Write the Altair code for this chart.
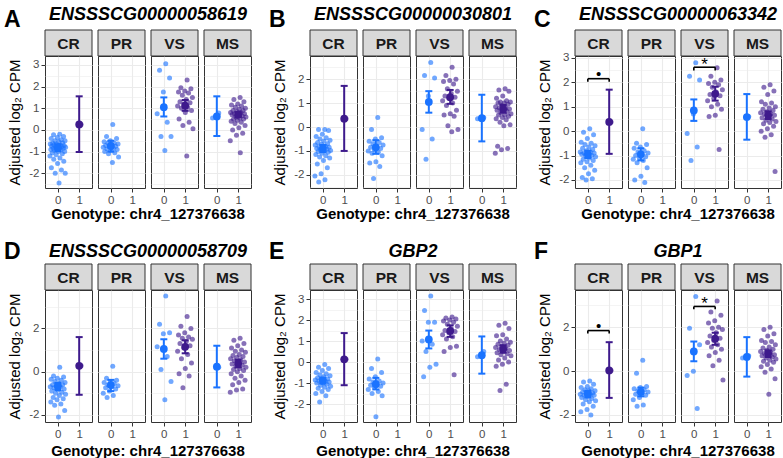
import altair as alt
import numpy as np
import pandas as pd

FONT = "Liberation Sans"
BLUE = "#1A73FF"
PURPLE = "#3E1A8C"
GRID = "#EBEBEB"
BORDER = "#333333"
STRIP_FILL = "#D9D9D9"
TISSUES = ["CR", "PR", "VS", "MS"]
X_TITLE = "Genotype: chr4_127376638"
Y_TITLE = "Adjusted log₂ CPM"

# ---- per-sample adjusted expression, one list per tissue x genotype ----
A_CR_0 = [-0.2, -0.22, -0.3, -0.35, -0.4, -0.45, -0.5, -0.5, -0.55, -0.6, -0.6, -0.65, -0.65, -0.7,
          -0.7, -0.72, -0.75, -0.75, -0.78, -0.8, -0.8, -0.82, -0.85, -0.85, -0.88, -0.9, -0.92, -0.95,
          -1.0, -1.0, -1.05, -1.1, -1.15, -1.2, -1.3, -1.35, -1.45, -1.55, -1.75, -1.85, -2.0, -2.0, -2.45]
A_CR_1 = [0.25]
A_PR_0 = [0.25, -0.3, -0.4, -0.5, -0.55, -0.6, -0.62, -0.65, -0.7, -0.72, -0.75, -0.78, -0.8, -0.85,
          -0.88, -0.9, -0.95, -1.0, -1.05, -1.1, -1.25, -1.5]
A_VS_0 = [3.05, 2.75, 2.4, 1.75, 0.75, 0.35, -0.3, -0.3, -0.95]
A_VS_1 = [2.3, 1.95, 1.9, 1.8, 1.75, 1.7, 1.6, 1.5, 1.4, 1.3, 1.25, 1.2, 1.1, 1.05, 1.0, 0.9, 0.8, 0.5,
          0.35, 0.2, 0.05, -1.2]
A_MS_0 = [0.78, 0.55]
A_MS_1 = [1.5, 1.4, 1.3, 1.2, 1.15, 1.1, 1.05, 1.0, 0.95, 0.9, 0.9, 0.85, 0.8, 0.8, 0.75, 0.75, 0.7, 0.7,
          0.65, 0.6, 0.6, 0.55, 0.5, 0.5, 0.45, 0.4, 0.35, 0.3, 0.2, 0.1, 0.0, -0.15, -0.25, -0.5, -1.05]

B_CR_0 = [-0.1, -0.1, -0.15, -0.3, -0.4, -0.45, -0.5, -0.55, -0.6, -0.65, -0.7, -0.72, -0.75, -0.8,
          -0.82, -0.85, -0.88, -0.9, -0.92, -0.95, -0.98, -1.0, -1.02, -1.05, -1.1, -1.15, -1.2, -1.25,
          -1.3, -1.4, -1.55, -1.7, -1.95, -2.05, -2.2, -2.3]
B_CR_1 = [0.35]
B_PR_0 = [0.4, -0.1, -0.45, -0.5, -0.6, -0.65, -0.7, -0.75, -0.8, -0.85, -0.9, -0.95, -1.0, -1.05,
          -1.1, -1.2, -1.45, -1.5, -1.65, -2.15]
B_VS_0 = [2.7, 2.15, 2.05, 1.3, -0.1, -0.5, -1.35]
B_VS_1 = [2.5, 2.15, 2.0, 1.95, 1.9, 1.8, 1.6, 1.5, 1.4, 1.3, 1.25, 1.2, 1.1, 1.0, 0.9, 0.7, 0.55, 0.5,
          0.45, 0.05, -0.1, -0.2]
B_MS_0 = [0.4, 0.35]
B_MS_1 = [1.6, 1.55, 1.5, 1.3, 1.2, 1.1, 1.05, 1.05, 1.0, 1.0, 0.95, 0.9, 0.85, 0.8, 0.8, 0.75, 0.7,
          0.7, 0.65, 0.6, 0.55, 0.5, 0.5, 0.45, 0.4, 0.35, 0.3, 0.2, 0.1, 0.05, -0.8, -0.9, -0.95, -1.1]

C_CR_0 = [0.1, -0.05, -0.15, -0.3, -0.45, -0.5, -0.55, -0.6, -0.65, -0.7, -0.75, -0.8, -0.85, -0.85,
          -0.9, -0.9, -0.95, -0.95, -1.0, -1.0, -1.05, -1.1, -1.15, -1.2, -1.25, -1.3, -1.4, -1.5, -1.6,
          -1.75, -1.9, -1.95, -2.0]
C_CR_1 = [0.38]
C_PR_0 = [0.1, -0.5, -0.55, -0.65, -0.7, -0.8, -0.85, -0.9, -0.95, -1.0, -1.05, -1.1, -1.15, -1.2,
          -1.3, -1.5, -1.85, -2.0, -2.1]
C_VS_0 = [2.8, 2.25, 2.1, 0.7, -0.1, -0.65, -1.2]
C_VS_1 = [2.6, 2.25, 2.1, 2.0, 1.95, 1.9, 1.8, 1.7, 1.6, 1.5, 1.45, 1.35, 1.25, 1.1, 1.0, 0.9, 0.65,
          0.6, -0.75]
C_MS_0 = [0.6]
C_MS_1 = [1.9, 1.8, 1.65, 1.5, 1.2, 1.15, 1.1, 1.0, 0.95, 0.9, 0.85, 0.8, 0.75, 0.7, 0.7, 0.65, 0.6,
          0.55, 0.5, 0.45, 0.4, 0.35, 0.3, 0.2, 0.1, 0.0, -0.15, -0.25, -1.65]

D_CR_0 = [0.2, -0.2, -0.25, -0.3, -0.35, -0.4, -0.45, -0.5, -0.55, -0.6, -0.6, -0.65, -0.7, -0.7,
          -0.75, -0.8, -0.85, -0.9, -0.95, -1.0, -1.05, -1.1, -1.2, -1.25, -1.3, -1.4, -1.5, -1.55,
          -1.8, -2.1]
D_CR_1 = [0.27]
D_PR_0 = [0.25, -0.3, -0.4, -0.45, -0.5, -0.55, -0.6, -0.65, -0.7, -0.75, -0.8, -0.9, -1.0, -1.1, -1.2]
D_VS_0 = [3.5, 2.2, 1.8, 1.75, 1.15, 0.7, 0.1, -0.45, -1.3]
D_VS_1 = [2.55, 2.1, 2.0, 1.8, 1.7, 1.6, 1.55, 1.5, 1.4, 1.3, 1.2, 1.1, 0.95, 0.8, 0.6, 0.4, 0.15,
          -0.1, -0.2, -0.75]
D_MS_0 = [0.2]
D_MS_1 = [1.55, 1.45, 1.3, 1.2, 1.1, 1.0, 0.95, 0.9, 0.8, 0.75, 0.7, 0.65, 0.6, 0.55, 0.5, 0.45, 0.4,
          0.35, 0.3, 0.25, 0.2, 0.15, 0.1, 0.05, 0.0, -0.1, -0.2, -0.3, -0.4, -0.5, -0.6, -0.8, -0.85,
          -0.95]

E_CR_0 = [-0.12, -0.25, -0.3, -0.4, -0.5, -0.55, -0.6, -0.65, -0.7, -0.75, -0.8, -0.8, -0.85, -0.9,
          -0.9, -0.95, -1.0, -1.0, -1.05, -1.1, -1.15, -1.2, -1.25, -1.3, -1.4, -1.5, -1.6, -1.9]
E_CR_1 = [0.13]
E_PR_0 = [0.15, -0.3, -0.5, -0.7, -0.8, -0.9, -0.95, -1.0, -1.05, -1.1, -1.15, -1.2, -1.3, -1.4, -1.5,
          -1.6, -2.6]
E_VS_0 = [3.15, 2.45, 1.9, 1.9, 1.0, 0.85, 0.5, -0.1, -0.25, -0.7]
E_VS_1 = [2.15, 2.1, 2.05, 2.0, 1.95, 1.9, 1.8, 1.7, 1.6, 1.5, 1.45, 1.4, 1.3, 1.2, 1.1, 0.75, 0.7,
          0.5, -0.6]
E_MS_0 = [0.5, 0.25]
E_MS_1 = [1.85, 1.75, 1.6, 1.3, 1.25, 1.1, 1.0, 0.95, 0.9, 0.85, 0.8, 0.75, 0.7, 0.65, 0.6, 0.55, 0.5,
          0.45, 0.4, 0.35, 0.3, 0.2, 0.1, 0.0, -0.1, -0.2, -1.05, -1.35]

F_CR_0 = [-0.45, -0.5, -0.6, -0.7, -0.75, -0.8, -0.85, -0.9, -0.9, -0.95, -1.0, -1.0, -1.05, -1.05,
          -1.1, -1.1, -1.15, -1.2, -1.25, -1.3, -1.35, -1.4, -1.5, -1.6, -1.75, -1.85, -2.0]
F_CR_1 = [0.03]
F_PR_0 = [0.5, -0.1, -0.7, -0.75, -0.8, -0.85, -0.9, -0.95, -1.0, -1.05, -1.1, -1.2, -1.3, -1.55, -1.6]
F_VS_0 = [3.4, 1.95, 1.2, 0.0, -0.2, -1.7]
F_VS_1 = [3.2, 2.7, 2.55, 2.3, 2.2, 2.0, 1.95, 1.9, 1.75, 1.6, 1.5, 1.4, 1.3, 1.2, 1.1, 1.0, 0.85,
          0.7, 0.5, 0.25, -0.4]
F_MS_0 = [0.7, 0.6]
F_MS_1 = [2.0, 1.9, 1.7, 1.6, 1.4, 1.35, 1.3, 1.2, 1.1, 1.05, 1.0, 0.95, 0.9, 0.85, 0.8, 0.75, 0.75,
          0.7, 0.65, 0.6, 0.55, 0.5, 0.45, 0.4, 0.3, 0.2, 0.1, -0.05, -0.35, -1.05]

# ---- group means with 95% intervals, order: CR0, CR1, PR0, VS0, VS1, MS0, MS1 ----
SUMMARY_KEYS = [("CR", 0), ("CR", 1), ("PR", 0), ("VS", 0), ("VS", 1), ("MS", 0), ("MS", 1)]
A_MEAN = [-0.82, 0.25, -0.74, 1.05, 1.12, 0.62, 0.7]
A_LO = [-0.98, -1.02, -1.0, 0.62, 0.88, -0.28, 0.6]
A_HI = [-0.66, 1.55, -0.5, 1.5, 1.38, 1.55, 0.82]
B_MEAN = [-0.9, 0.35, -0.85, 1.05, 1.25, 0.37, 0.75]
B_LO = [-1.05, -1.0, -1.12, 0.6, 0.97, -0.6, 0.6]
B_HI = [-0.75, 1.72, -0.55, 1.5, 1.55, 1.35, 0.92]
C_MEAN = [-0.95, 0.38, -0.95, 0.85, 1.53, 0.58, 0.65]
C_LO = [-1.1, -0.93, -1.2, 0.42, 1.25, -0.35, 0.5]
C_HI = [-0.8, 1.7, -0.7, 1.3, 1.82, 1.52, 0.82]
D_MEAN = [-0.68, 0.27, -0.62, 1.05, 1.15, 0.23, 0.38]
D_LO = [-0.85, -1.07, -0.9, 0.6, 0.85, -0.73, 0.2]
D_HI = [-0.52, 1.6, -0.38, 1.5, 1.45, 1.2, 0.55]
E_MEAN = [-0.88, 0.13, -1.05, 1.08, 1.48, 0.33, 0.62]
E_LO = [-1.02, -1.1, -1.3, 0.65, 1.2, -0.55, 0.45]
E_HI = [-0.74, 1.38, -0.75, 1.5, 1.75, 1.22, 0.8]
F_MEAN = [-1.05, 0.03, -0.95, 0.9, 1.48, 0.65, 0.8]
F_LO = [-1.2, -1.22, -1.15, 0.45, 1.2, -0.25, 0.65]
F_HI = [-0.9, 1.32, -0.75, 1.35, 1.75, 1.55, 0.95]

# ---- significance brackets: tissue, bracket height, symbol ----
C_BRACKET_TISSUE = ["CR", "VS"]
C_BRACKET_Y = [2.15, 2.62]
C_BRACKET_LABEL = ["•", "*"]
F_BRACKET_TISSUE = ["CR", "VS"]
F_BRACKET_Y = [1.85, 2.95]
F_BRACKET_LABEL = ["•", "*"]

GENES = ["ENSSSCG00000058619", "ENSSSCG00000030801", "ENSSSCG00000063342",
         "ENSSSCG00000058709", "GBP2", "GBP1"]
LETTERS = ["A", "B", "C", "D", "E", "F"]
Y_DOMAINS = [[-2.68, 3.41], [-2.55, 2.97], [-2.33, 3.08], [-2.33, 3.78], [-2.85, 3.43], [-2.32, 3.70]]
Y_STEPS = [1, 1, 1, 2, 1, 2]

GROUPS = [
    {("CR", 0): A_CR_0, ("CR", 1): A_CR_1, ("PR", 0): A_PR_0, ("VS", 0): A_VS_0, ("VS", 1): A_VS_1, ("MS", 0): A_MS_0, ("MS", 1): A_MS_1},
    {("CR", 0): B_CR_0, ("CR", 1): B_CR_1, ("PR", 0): B_PR_0, ("VS", 0): B_VS_0, ("VS", 1): B_VS_1, ("MS", 0): B_MS_0, ("MS", 1): B_MS_1},
    {("CR", 0): C_CR_0, ("CR", 1): C_CR_1, ("PR", 0): C_PR_0, ("VS", 0): C_VS_0, ("VS", 1): C_VS_1, ("MS", 0): C_MS_0, ("MS", 1): C_MS_1},
    {("CR", 0): D_CR_0, ("CR", 1): D_CR_1, ("PR", 0): D_PR_0, ("VS", 0): D_VS_0, ("VS", 1): D_VS_1, ("MS", 0): D_MS_0, ("MS", 1): D_MS_1},
    {("CR", 0): E_CR_0, ("CR", 1): E_CR_1, ("PR", 0): E_PR_0, ("VS", 0): E_VS_0, ("VS", 1): E_VS_1, ("MS", 0): E_MS_0, ("MS", 1): E_MS_1},
    {("CR", 0): F_CR_0, ("CR", 1): F_CR_1, ("PR", 0): F_PR_0, ("VS", 0): F_VS_0, ("VS", 1): F_VS_1, ("MS", 0): F_MS_0, ("MS", 1): F_MS_1},
]
SUMMARIES = [(A_MEAN, A_LO, A_HI), (B_MEAN, B_LO, B_HI), (C_MEAN, C_LO, C_HI),
             (D_MEAN, D_LO, D_HI), (E_MEAN, E_LO, E_HI), (F_MEAN, F_LO, F_HI)]
BRACKETS = [None, None, (C_BRACKET_TISSUE, C_BRACKET_Y, C_BRACKET_LABEL), None, None,
            (F_BRACKET_TISSUE, F_BRACKET_Y, F_BRACKET_LABEL)]

# ---- layout constants (pixels) ----
W, H = 47, 132          # one tissue cell
GAP = 6                 # space between neighbouring grid columns
PANEL_GAP = 58.5        # space between the last cell of a panel and the next panel
SPACER_W = PANEL_GAP - 2 * GAP
STRIP = 26              # grey strip above each cell
BODY_W = 4 * W + 3 * GAP
ROW_GAP = 29
HEADER_H = 24
MID_H = 44
FOOTER_H = 4
JITTER = 0.38
TICK_DROP = 0.13        # bracket end ticks, in data units

CLEAR = alt.ViewBackground(strokeWidth=0, fill="transparent")


def jitter(n):
    # low-discrepancy horizontal spread for overlapping samples
    return [(((i + 1) * 0.6180339887) % 1 - 0.5) * 2 * JITTER for i in range(n)]


def blank(w, h):
    return alt.Chart(pd.DataFrame({"v": [0]})).mark_point(opacity=0).encode(
        x=alt.value(0), y=alt.value(0)).properties(width=w, height=h, view=CLEAR)


def cell(k, tissue, first):
    groups = GROUPS[k]
    mean, lo, hi = SUMMARIES[k]
    ydom = Y_DOMAINS[k]
    step = Y_STEPS[k]
    half = step / 2
    start = np.ceil(ydom[0] / half) * half
    ticks = [round(float(v), 3) for v in np.arange(start, ydom[1] + 1e-9, half)]
    major = f"abs(datum.value % {step}) < 0.001"
    grid_w = {"condition": {"test": major, "value": 1.1}, "value": 0.55}

    if first:
        yaxis = alt.Axis(values=ticks, labelExpr=f"{major} ? '' + datum.value : ''",
                         tickColor={"condition": {"test": major, "value": BORDER}, "value": "transparent"},
                         tickSize=4, tickWidth=1, domain=False, labelPadding=2,
                         labelColor="#4D4D4D", labelFontSize=11.5, labelFont=FONT,
                         title=Y_TITLE, titleFont=FONT, titleFontSize=15, titleFontWeight="normal",
                         titleColor="black", titlePadding=6,
                         grid=True, gridColor=GRID, gridWidth=grid_w)
    else:
        yaxis = alt.Axis(values=ticks, labels=False, ticks=False, domain=False, title="",
                         grid=True, gridColor=GRID, gridWidth=grid_w)
    xaxis = alt.Axis(values=[0, 1], format="d", title="", domain=False, tickSize=4, tickWidth=1,
                     tickColor=BORDER, labelColor="#4D4D4D", labelFontSize=11.5, labelFont=FONT,
                     labelPadding=2, labelFlush=False, grid=True, gridColor=GRID, gridWidth=1.1)
    xs = alt.Scale(domain=[-0.6, 1.6], nice=False, zero=False)
    ys = alt.Scale(domain=ydom, nice=False, zero=False)
    color = alt.Color("g:N", scale=alt.Scale(domain=["0", "1"], range=[BLUE, PURPLE]), legend=None)

    def X(f):
        return alt.X(f, type="quantitative", scale=xs, axis=xaxis)

    def Y(f):
        return alt.Y(f, type="quantitative", scale=ys, axis=yaxis)

    pts = []
    for g in (0, 1):
        vals = groups.get((tissue, g), [])
        for v, dx in zip(vals, jitter(len(vals))):
            pts.append({"x": g + dx, "y": v, "g": str(g)})
    pts = pd.DataFrame(pts)

    summ = []
    for (t, g), m, l, h in zip(SUMMARY_KEYS, mean, lo, hi):
        if t == tissue:
            summ.append({"x": g, "m": m, "lo": l, "hi": h, "g": str(g)})
    summ = pd.DataFrame(summ)

    strip_df = pd.DataFrame({"tissue": [tissue]})
    strip = alt.Chart(strip_df).mark_rect(fill=STRIP_FILL, stroke=BORDER, strokeWidth=1).encode(
        x=alt.value(0), x2=alt.value(W), y=alt.value(-STRIP), y2=alt.value(0))
    strip_txt = alt.Chart(strip_df).mark_text(font=FONT, fontSize=15.5, fontWeight="bold",
                                              color="#1A1A1A", baseline="middle").encode(
        text="tissue:N", x=alt.value(W / 2), y=alt.value(-STRIP / 2 + 1))

    points = alt.Chart(pts).mark_circle(size=25, opacity=0.62).encode(x=X("x"), y=Y("y"), color=color)
    bars = alt.Chart(summ).mark_rule(strokeWidth=2).encode(x=X("x"), y=Y("lo"), y2="hi", color=color)
    cap_lo = alt.Chart(summ).mark_tick(orient="horizontal", size=7, thickness=2, opacity=1).encode(
        x=X("x"), y=Y("lo"), color=color)
    cap_hi = alt.Chart(summ).mark_tick(orient="horizontal", size=7, thickness=2, opacity=1).encode(
        x=X("x"), y=Y("hi"), color=color)
    dots = alt.Chart(summ).mark_circle(size=60, opacity=1).encode(x=X("x"), y=Y("m"), color=color)

    layers = [points, bars, cap_lo, cap_hi, dots]

    br = BRACKETS[k]
    if br is not None:
        for t, yb, lab in zip(*br):
            if t != tissue:
                continue
            top = pd.DataFrame({"x0": [0], "x1": [1], "y": [yb], "label": [lab]})
            ends = pd.DataFrame({"x": [0, 1], "y": [yb, yb], "y2": [yb - TICK_DROP, yb - TICK_DROP]})
            layers.append(alt.Chart(top).mark_rule(color="black", strokeWidth=1.6).encode(
                x=X("x0"), x2="x1", y=Y("y")))
            layers.append(alt.Chart(ends).mark_rule(color="black", strokeWidth=1.6).encode(
                x=X("x"), y=Y("y"), y2="y2"))
            is_star = lab == "*"
            layers.append(alt.Chart(top).transform_calculate(xm="(datum.x0 + datum.x1) / 2").mark_text(
                font=FONT, fontSize=17 if is_star else 15, color="black",
                baseline="alphabetic", dy=3 if is_star else 0).encode(
                x=X("xm:Q"), y=Y("y"), text="label:N"))

    layers += [strip, strip_txt]
    return alt.layer(*layers).properties(
        width=W, height=H,
        view=alt.ViewBackground(fill="white", stroke=BORDER, strokeWidth=1))


def title_cell(k, letter_y, gene_y):
    df = pd.DataFrame({"letter": [LETTERS[k]], "gene": [GENES[k]]})
    letter = alt.Chart(df).mark_text(font=FONT, fontSize=23, fontWeight="bold", color="black",
                                     align="left", baseline="alphabetic").encode(
        text="letter:N", x=alt.value(-41), y=alt.value(letter_y))
    gene = alt.Chart(df).mark_text(font=FONT, fontSize=18, fontWeight="bold", fontStyle="italic",
                                   color="black", align="center", baseline="alphabetic").encode(
        text="gene:N", x=alt.value(BODY_W / 2), y=alt.value(gene_y))
    return [letter, gene]


def xtitle_layer(y):
    df = pd.DataFrame({"label": [X_TITLE]})
    return alt.Chart(df).mark_text(font=FONT, fontSize=15, fontWeight="bold", color="black",
                                   align="center", baseline="alphabetic").encode(
        text="label:N", x=alt.value(BODY_W / 2), y=alt.value(y))


def text_row(layers_for_panel, height):
    # one grid row; the texts of each panel live in its first column and overflow to the right
    row = []
    for p in range(3):
        row.append(alt.layer(*layers_for_panel(p)).properties(width=W, height=height, view=CLEAR))
        row += [blank(W, height) for _ in range(3)]
        if p < 2:
            row.append(blank(SPACER_W, height))
    return row


def body_row(offset):
    row = []
    for p in range(3):
        row += [cell(offset + p, t, i == 0) for i, t in enumerate(TISSUES)]
        if p < 2:
            row.append(blank(SPACER_W, H))
    return row


items = []
items += text_row(lambda p: title_cell(p, 24, 17), HEADER_H)
items += body_row(0)
items += text_row(lambda p: [xtitle_layer(2)] + title_cell(p + 3, 42, 40), MID_H)
items += body_row(3)
items += text_row(lambda p: [xtitle_layer(5)], FOOTER_H)

chart = alt.concat(*items, columns=14, spacing={"row": ROW_GAP, "column": GAP},
                   bounds="flush", align="each").properties(
    padding={"left": 4, "top": 0, "right": 0, "bottom": 0},
    background="white",
).configure(font=FONT).configure_view(strokeWidth=0)

chart.save("out.html", embed_options={"renderer": "svg", "actions": False})
